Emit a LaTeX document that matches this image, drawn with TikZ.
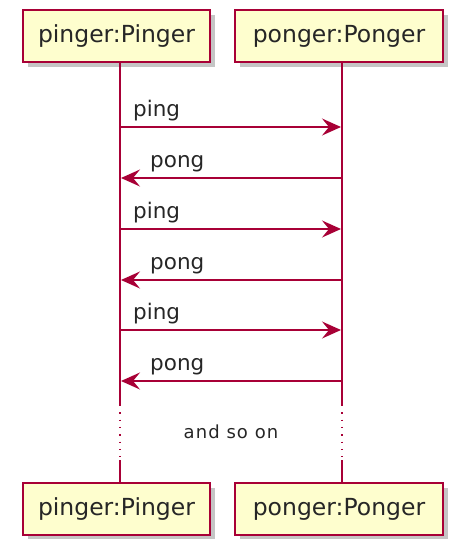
\documentclass[tikz,border=0pt]{standalone}
\usepackage{fontspec}
\setmainfont{DejaVu Sans}
\usetikzlibrary{arrows.meta,shadows}
\definecolor{pfill}{HTML}{FEFECE}
\definecolor{pline}{HTML}{A80036}
\begin{document}
\begin{tikzpicture}[x=1pt,y=-1pt,
  part/.style={draw=pline,fill=pfill,line width=1.6pt,minimum height=52pt,inner xsep=0pt,
    font=\fontsize{23.5}{28}\selectfont,text=black!85,
    drop shadow={shadow xshift=5pt,shadow yshift=-5pt,fill=black!45,opacity=0.5}},
  life/.style={draw=pline,line width=1.3pt},
  msg/.style={draw=pline,line width=1.3pt,-{Stealth[length=19pt,width=17pt,inset=7pt]}},
  lbl/.style={font=\fontsize{21.5}{26}\selectfont,text=black!85,inner sep=0pt,anchor=base west}]
\useasboundingbox (0,0) rectangle (451,539);
\node[part,minimum width=187pt] (pt) at (116.5,36) {pinger:Pinger};
\node[part,minimum width=208pt] (qt) at (339,36) {ponger:Ponger};
\node[part,minimum width=187pt] (pb) at (116.5,509) {pinger:Pinger};
\node[part,minimum width=208pt] (qb) at (339,509) {ponger:Ponger};
\coordinate (a1) at (120,405); \coordinate (a2) at (120,460);
\coordinate (b1) at (342,405); \coordinate (b2) at (342,460);
\draw[life] (pt.south -| a1) -- (a1);
\draw[life] (qt.south -| b1) -- (b1);
\draw[life,dash pattern=on 1.3pt off 6pt] (a1) -- (a2);
\draw[life,dash pattern=on 1.3pt off 6pt] (b1) -- (b2);
\draw[life] (a2) -- (pb.north -| a2);
\draw[life] (b2) -- (qb.north -| b2);
\foreach \i/\y in {1/127,2/229,3/330}{
  \coordinate (p\i) at (120,\y); \coordinate (q\i) at (341,\y);
  \draw[msg] (p\i) -- (q\i);
  \node[lbl] at (133,\y-11) {ping};
}
\foreach \i/\y in {1/178,2/280,3/381}{
  \coordinate (r\i) at (342,\y); \coordinate (s\i) at (121,\y);
  \draw[msg] (r\i) -- (s\i);
  \node[lbl] at (150,\y-11) {pong};
}
\node[font=\fontsize{18}{22}\selectfont,text=black!85] (etc) at (231,432) {\addfontfeatures{LetterSpace=6}and so on};
\end{tikzpicture}
\end{document}
